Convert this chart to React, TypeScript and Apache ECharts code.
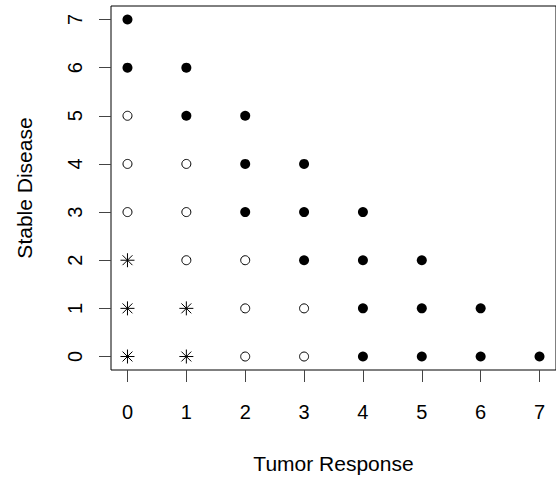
import React, { useEffect, useRef } from "react";
import * as echarts from "echarts";

const tickValues = [0, 1, 2, 3, 4, 5, 6, 7];
const filledPoints: number[][] = [
  [0, 7], [0, 6], [1, 6], [1, 5], [2, 5], [2, 4], [3, 4], [2, 3], [3, 3], [4, 3],
  [3, 2], [4, 2], [5, 2], [4, 1], [5, 1], [6, 1], [4, 0], [5, 0], [6, 0], [7, 0],
];
const openPoints: number[][] = [
  [0, 5], [0, 4], [1, 4], [0, 3], [1, 3], [1, 2], [2, 2], [2, 1], [3, 1], [2, 0], [3, 0],
];
const starPoints: number[][] = [
  [0, 2], [0, 1], [1, 1], [0, 0], [1, 0],
];
const xTitle = "Tumor Response";
const yTitle = "Stable Disease";

const FONT = "Liberation Sans, Arial, Helvetica, sans-serif";
const STAR = "path://M0,-10L0,10M-10,0L10,0M-7.07,-7.07L7.07,7.07M-7.07,7.07L7.07,-7.07";

export default function App() {
  const ref = useRef<HTMLDivElement>(null);
  useEffect(() => {
    if (!ref.current) return;
    const chart = echarts.init(ref.current, null, { renderer: "svg" });
    const axisCommon = {
      type: "value" as const,
      min: -0.28,
      max: 7.28,
      splitLine: { show: false },
      axisLine: { show: false, onZero: false },
      axisTick: {
        show: true,
        customValues: tickValues,
        length: 12,
        inside: false,
        lineStyle: { color: "#444", width: 1 },
      },
      nameLocation: "middle" as const,
      nameTextStyle: { fontFamily: FONT, fontSize: 21, color: "#000" },
    };
    chart.setOption({
      animation: false,
      backgroundColor: "#fff",
      grid: {
        left: 111,
        top: 6,
        width: 449,
        height: 367,
        show: true,
        borderColor: "#000",
        borderWidth: 1,
        backgroundColor: "transparent",
      },
      xAxis: {
        ...axisCommon,
        name: xTitle,
        nameGap: 83,
        axisLabel: {
          customValues: tickValues,
          fontFamily: FONT,
          fontSize: 20,
          color: "#000",
          margin: 32,
        },
      },
      yAxis: {
        ...axisCommon,
        name: yTitle,
        nameGap: 76,
        nameRotate: 90,
        axisLabel: {
          customValues: tickValues,
          fontFamily: FONT,
          fontSize: 20,
          color: "#000",
          margin: 26,
          rotate: 90,
        },
      },
      series: [
        {
          type: "scatter",
          data: filledPoints,
          symbol: "circle",
          symbolSize: 10,
          itemStyle: { color: "#000", opacity: 1 },
        },
        {
          type: "scatter",
          data: openPoints,
          symbol: "circle",
          symbolSize: 9,
          itemStyle: { color: "#fff", borderColor: "#000", borderWidth: 1, opacity: 1 },
        },
        {
          type: "scatter",
          data: starPoints,
          symbol: STAR,
          symbolSize: 14,
          itemStyle: { color: "none", borderColor: "#000", borderWidth: 1, opacity: 1 },
        },
      ],
    });
    return () => chart.dispose();
  }, []);
  return <div ref={ref} style={{ width: 556, height: 479, position: "absolute", left: 0, top: 0 }} />;
}
